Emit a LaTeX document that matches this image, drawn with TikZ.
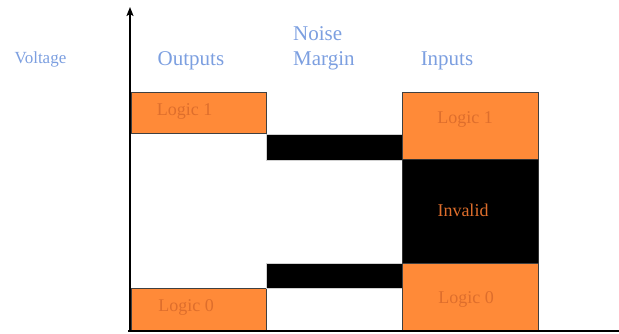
\documentclass[tikz,border=0pt]{standalone}
\usepackage{fontspec}
\setmainfont{Liberation Serif}
\usetikzlibrary{positioning}
\usetikzlibrary{arrows.meta}

\definecolor{headblue}{HTML}{7C9FE0}
\definecolor{fillorange}{HTML}{FF8A38}
\definecolor{tagorange}{HTML}{DE6E2C}

\begin{document}
\begin{tikzpicture}[x=1pt, y=-1pt,
    level/.style = {draw=black!75, fill=fillorange, line width=0.8pt, outer sep=0pt, anchor=north west},
    margin/.style = {draw=black!18, fill=black, line width=0.8pt, outer sep=0pt, anchor=north west},
    head/.style = {text=headblue, font=\fontsize{21}{25}\selectfont, align=left, anchor=base, inner sep=0pt},
    tag/.style = {text=tagorange, font=\fontsize{18}{21}\selectfont, anchor=base, inner sep=0pt},
    axis/.style = {line width=2.2pt}]
    \useasboundingbox (0,0) rectangle (619,333);

    % output levels
    \node[level, minimum width=135pt, minimum height=41pt] (out1) at (131,92) {};
    \node[level, minimum width=135pt, minimum height=42pt] (out0) at (131,288) {};

    % noise margins
    \node[margin, minimum width=136pt, minimum height=26pt] (nmhigh) at (266,134) {};
    \node[margin, minimum width=136pt, minimum height=25pt] (nmlow) at (266,263) {};

    % input levels
    \node[level, minimum width=136pt, minimum height=67pt] (in1) at (402,92) {};
    \node[margin, draw=black!80, minimum width=136pt, minimum height=104pt, below=0pt of in1] (invalid) {};
    \node[level, minimum width=136pt, minimum height=67pt, below=0pt of invalid] (in0) {};

    % axes
    \coordinate (origin) at (130,331);
    \coordinate (ytop) at (130,7);
    \coordinate (xstart) at (128,331);
    \coordinate (xend) at (619,331);
    \draw[axis, -{Stealth[length=9pt, width=7pt, inset=2pt]}] (origin) -- (ytop);
    \draw[axis] (xstart) -- (xend);

    % headings
    \node[head, font=\fontsize{17}{20}\selectfont] (voltage) at (40.5,63) {Voltage};
    \node[head] (outputs) at (191,65.5) {Outputs};
    \node[head, anchor=base west] (noise) at (293,65) {Noise\\Margin};
    \node[head] (inputs) at (447,65.5) {Inputs};

    % level texts
    \node[tag] (out1txt) at (184.5,115) {Logic 1};
    \node[tag] (out0txt) at (186,311) {Logic 0};
    \node[tag] (in1txt) at (465,123.3) {Logic 1};
    \node[tag] (invtxt) at (463,216.7) {Invalid};
    \node[tag] (in0txt) at (466,303.3) {Logic 0};
\end{tikzpicture}
\end{document}
